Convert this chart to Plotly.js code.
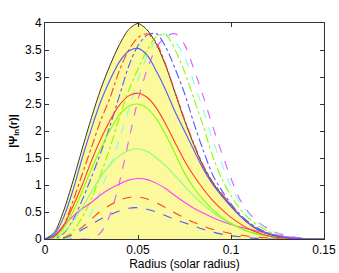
<!DOCTYPE html>
<html>
<head>
<meta charset="utf-8">
<script src="https://cdn.plot.ly/plotly-3.0.1.min.js"></script>
<style>html,body{margin:0;padding:0;background:#fff;}#plot{width:339px;height:273px;}</style>
</head>
<body>
<div id="plot"></div>
<script>
// radius samples (solar radius)
const radius = [0,0.005,0.01,0.015,0.02,0.025,0.03,0.035,0.04,0.045,0.05,0.055,0.06,0.065,0.07,0.075,0.08,0.085,0.09,0.095,0.1,0.105,0.11,0.115,0.12,0.125,0.13,0.135,0.14,0.145,0.15];

// envelope (yellow area, black outline)
const envelope      = [0,0.12,0.52,1.07,1.67,2.25,2.78,3.22,3.6,3.88,3.99,3.87,3.6,3.2,2.7,2.2,1.75,1.35,1.05,0.83,0.62,0.42,0.27,0.16,0.09,0.05,0.025,0.01,0,0,0];

// centred modes
const blueSolid     = [0,0.08,0.4,0.9,1.5,2.05,2.55,2.95,3.28,3.48,3.53,3.4,3.1,2.75,2.35,2.0,1.65,1.3,1.02,0.8,0.6,0.42,0.28,0.17,0.1,0.05,0.025,0.01,0,0,0];
const redSolid      = [0,0.05,0.25,0.6,1.0,1.45,1.85,2.2,2.48,2.65,2.7,2.62,2.42,2.12,1.78,1.45,1.17,0.93,0.72,0.55,0.4,0.28,0.18,0.11,0.06,0.03,0.015,0.005,0,0,0];
const greenSolid    = [0,0.04,0.2,0.5,0.88,1.3,1.68,2.02,2.3,2.46,2.5,2.42,2.22,1.92,1.58,1.22,0.95,0.73,0.55,0.4,0.29,0.2,0.13,0.08,0.05,0.025,0.01,0.005,0,0,0];
const lgreenSolid   = [0,0.02,0.12,0.32,0.58,0.88,1.15,1.38,1.54,1.64,1.67,1.62,1.5,1.35,1.17,0.98,0.8,0.64,0.5,0.38,0.28,0.2,0.14,0.09,0.06,0.03,0.015,0.005,0,0,0];
const magentaSolid  = [0,0.06,0.25,0.42,0.56,0.68,0.82,0.93,1.02,1.09,1.12,1.1,1.03,0.93,0.8,0.68,0.57,0.48,0.4,0.33,0.27,0.22,0.18,0.14,0.1,0.07,0.04,0.02,0.01,0,0];
const redDashed     = [0,0,0.02,0.1,0.22,0.37,0.52,0.63,0.72,0.77,0.78,0.74,0.67,0.58,0.48,0.39,0.31,0.24,0.18,0.14,0.1,0.07,0.05,0.03,0.02,0.01,0,0,0,0,0];
const blueDashed    = [0,0,0.02,0.08,0.17,0.27,0.37,0.45,0.52,0.57,0.58,0.55,0.5,0.43,0.36,0.3,0.24,0.18,0.13,0.09,0.06,0.04,0.02,0.01,0,0,0,0,0,0,0];

// shifted modes
const redDashDot    = [0,0.03,0.25,0.7,1.2,1.7,2.2,2.62,3.12,3.5,3.73,3.8,3.63,3.22,2.72,2.22,1.77,1.37,1.07,0.84,0.63,0.43,0.28,0.17,0.1,0.055,0.03,0.012,0.004,0,0];
const blueDashDot   = [0,0.01,0.1,0.35,0.72,1.15,1.6,2.1,2.65,3.2,3.58,3.78,3.8,3.55,3.15,2.7,2.15,1.65,1.2,0.9,0.65,0.45,0.3,0.19,0.11,0.06,0.03,0.015,0.005,0,0];
const greenDashDot  = [0,0,0.03,0.15,0.4,0.75,1.2,1.7,2.25,2.75,3.15,3.5,3.75,3.78,3.5,3.1,2.6,2.1,1.55,1.12,0.8,0.55,0.37,0.24,0.14,0.08,0.04,0.02,0.01,0,0];
const cyanDashed    = [0,0,0,0.05,0.2,0.5,0.9,1.35,1.85,2.4,2.95,3.4,3.7,3.8,3.65,3.38,2.9,2.4,1.85,1.4,0.97,0.66,0.45,0.29,0.17,0.1,0.05,0.025,0.01,0,0];
const magentaDashed = [0,0,0,0,0,0,0.12,0.45,1.05,1.82,2.58,3.15,3.55,3.75,3.8,3.6,3.15,2.65,2.1,1.6,1.12,0.72,0.47,0.3,0.19,0.11,0.06,0.03,0.015,0.005,0];

const xTicks = [0, 0.05, 0.1, 0.15];
const xTickText = ['0', '0.05', '0.1', '0.15'];
const yTicks = [0, 0.5, 1, 1.5, 2, 2.5, 3, 3.5, 4];
const yTickText = ['0', '0.5', '1', '1.5', '2', '2.5', '3', '3.5', '4'];

function line(y, color, dash) {
  return {x: radius, y: y, type: 'scatter', mode: 'lines', hoverinfo: 'skip',
          line: {color: color, width: 1.1, dash: dash || 'solid', shape: 'spline', smoothing: 0.8}};
}

const traces = [
  {x: radius, y: envelope, type: 'scatter', mode: 'lines', fill: 'tozeroy',
   fillcolor: '#fbf99c', line: {color: '#333333', width: 1, shape: 'spline', smoothing: 0.8}, hoverinfo: 'skip'},
  line(magentaDashed, '#e05cff', 'dash'),
  line(cyanDashed, '#80ffe0', 'dash'),
  line(greenDashDot, '#80ff00', 'dashdot'),
  line(blueDashDot, '#4f5bff', 'dashdot'),
  line(redDashDot, '#ff4020', 'dashdot'),
  line(blueDashed, '#4f5bff', 'dash'),
  line(redDashed, '#ff4020', 'dash'),
  line(magentaSolid, '#ff40ff'),
  line(lgreenSolid, '#80ff80'),
  line(greenSolid, '#80ff00'),
  line(redSolid, '#ff4020'),
  line(blueSolid, '#4f5bff')
];

const layout = {
  width: 339, height: 273,
  margin: {l: 45, r: 15, t: 23, b: 34},
  paper_bgcolor: '#ffffff', plot_bgcolor: '#ffffff',
  showlegend: false,
  font: {family: 'Liberation Sans, Arial, sans-serif', size: 12, color: '#000'},
  xaxis: {
    range: [0, 0.15], tickvals: xTicks, ticktext: xTickText,
    ticks: 'inside', ticklen: 4, tickcolor: '#333', showgrid: false, zeroline: false,
    showline: true, linecolor: '#333', linewidth: 1, mirror: 'ticks',
    tickfont: {size: 12},
    title: {text: 'Radius (solar radius)', font: {size: 12}, standoff: 3}
  },
  yaxis: {
    range: [0, 4], tickvals: yTicks, ticktext: yTickText,
    ticks: 'inside', ticklen: 4, tickcolor: '#333', showgrid: false, zeroline: false,
    showline: true, linecolor: '#333', linewidth: 1, mirror: 'ticks',
    tickfont: {size: 12},
    title: {text: '<b>|Ψ<sub>ln</sub>(r)|</b>', font: {size: 11}, standoff: 5}
  }
};

Plotly.newPlot('plot', traces, layout, {staticPlot: true, displayModeBar: false});
</script>
</body>
</html>
